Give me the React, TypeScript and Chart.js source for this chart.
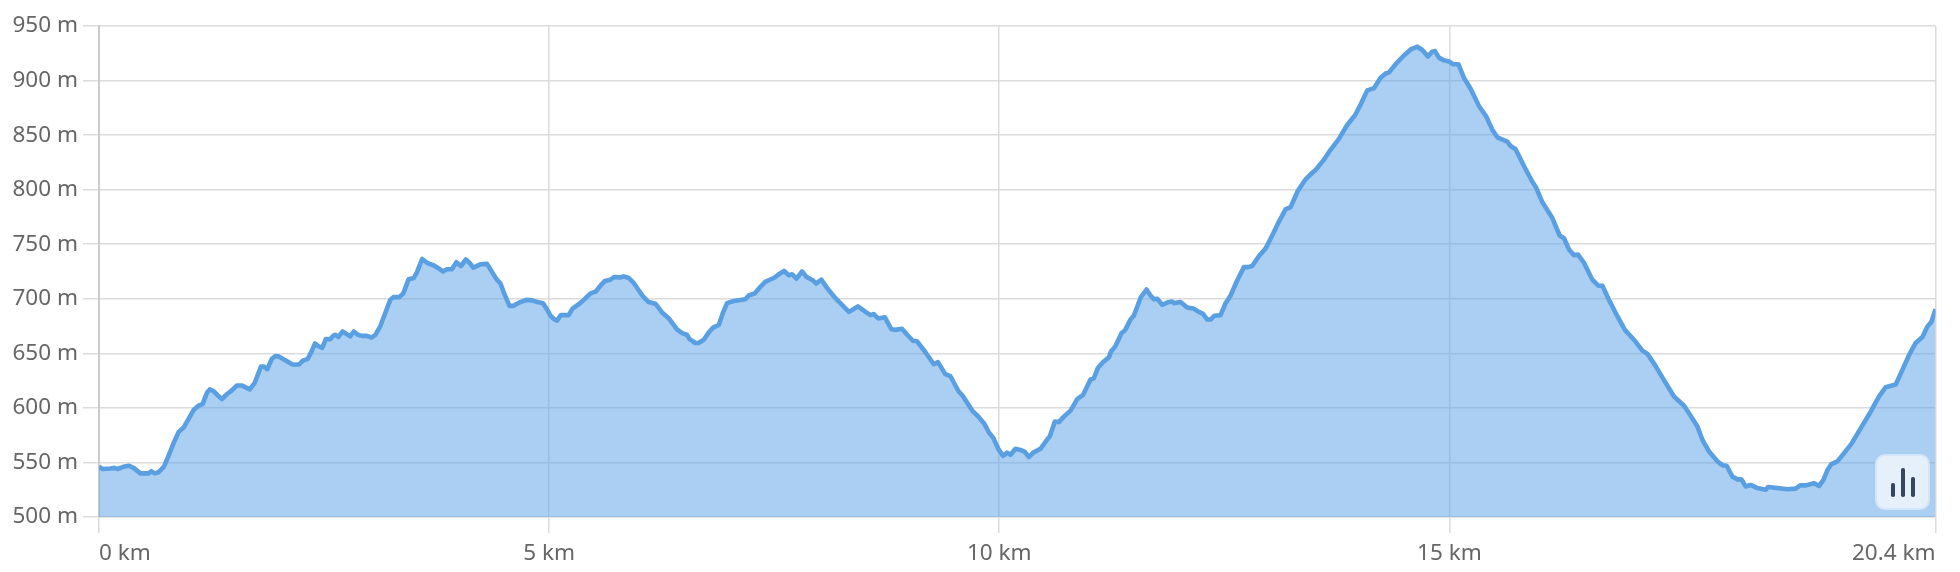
import React, { useEffect, useRef } from "react";
import { Chart, registerables } from "chart.js";

Chart.register(...registerables);

const distanceKm = [
  0, 0.04, 0.125, 0.17, 0.21, 0.27, 0.33, 0.385, 0.46, 0.515, 0.55, 0.58, 0.62, 0.66, 0.72, 0.77, 0.83, 0.885, 0.94, 0.995,
  1.05, 1.105, 1.15, 1.2, 1.23, 1.27, 1.32, 1.365, 1.42, 1.475, 1.53, 1.59, 1.625, 1.675, 1.73, 1.8, 1.83, 1.87, 1.92, 1.96,
  2.0, 2.05, 2.145, 2.18, 2.225, 2.26, 2.32, 2.365, 2.4, 2.44, 2.48, 2.52, 2.57, 2.6, 2.625, 2.66, 2.705, 2.745, 2.79, 2.83,
  2.875, 2.92, 2.975, 3.03, 3.07, 3.125, 3.18, 3.235, 3.27, 3.335, 3.38, 3.44, 3.495, 3.53, 3.59, 3.645, 3.72, 3.77, 3.82, 3.865,
  3.92, 3.97, 4.02, 4.075, 4.115, 4.16, 4.235, 4.31, 4.355, 4.415, 4.46, 4.5, 4.56, 4.605, 4.68, 4.745, 4.81, 4.87, 4.93, 4.975,
  5.015, 5.06, 5.087, 5.13, 5.217, 5.26, 5.33, 5.385, 5.46, 5.515, 5.57, 5.615, 5.68, 5.725, 5.79, 5.83, 5.885, 5.94, 5.985, 6.045,
  6.105, 6.18, 6.255, 6.33, 6.42, 6.477, 6.53, 6.56, 6.625, 6.66, 6.717, 6.772, 6.82, 6.885, 6.93, 6.977, 7.05, 7.18, 7.217, 7.285,
  7.347, 7.4, 7.506, 7.56, 7.61, 7.663, 7.7, 7.747, 7.81, 7.86, 7.93, 7.965, 8.025, 8.087, 8.18, 8.33, 8.43, 8.515, 8.57, 8.606,
  8.655, 8.73, 8.803, 8.847, 8.92, 8.977, 9.04, 9.088, 9.18, 9.273, 9.32, 9.4, 9.458, 9.55, 9.595, 9.7, 9.773, 9.83, 9.885, 9.93,
  9.996, 10.043, 10.087, 10.125, 10.18, 10.236, 10.28, 10.33, 10.377, 10.458, 10.514, 10.562, 10.618, 10.662, 10.718, 10.792, 10.866, 10.932, 11.014, 11.05,
  11.095, 11.155, 11.218, 11.244, 11.29, 11.358, 11.4, 11.458, 11.495, 11.57, 11.636, 11.68, 11.718, 11.755, 11.81, 11.866, 11.92, 11.94, 12.014, 12.088,
  12.155, 12.218, 12.266, 12.31, 12.347, 12.392, 12.458, 12.514, 12.57, 12.644, 12.718, 12.762, 12.81, 12.884, 12.958, 13.032, 13.106, 13.18, 13.236, 13.317,
  13.403, 13.477, 13.514, 13.607, 13.68, 13.773, 13.866, 13.95, 14.014, 14.088, 14.162, 14.236, 14.292, 14.33, 14.403, 14.495, 14.57, 14.644, 14.7, 14.762,
  14.81, 14.84, 14.884, 14.94, 14.995, 15.04, 15.1, 15.162, 15.236, 15.33, 15.41, 15.477, 15.533, 15.644, 15.68, 15.736, 15.83, 15.92, 15.966, 16.03,
  16.144, 16.225, 16.273, 16.33, 16.384, 16.43, 16.495, 16.588, 16.655, 16.7, 16.773, 16.866, 16.95, 17.05, 17.144, 17.2, 17.29, 17.384, 17.495, 17.607,
  17.662, 17.755, 17.81, 17.885, 17.977, 18.033, 18.08, 18.144, 18.2, 18.244, 18.292, 18.347, 18.42, 18.514, 18.54, 18.644, 18.755, 18.847, 18.896, 18.959,
  19.05, 19.107, 19.155, 19.2, 19.244, 19.31, 19.384, 19.466, 19.57, 19.68, 19.773, 19.847, 19.958, 20.033, 20.107, 20.18, 20.255, 20.31, 20.355, 20.4,
];

const elevationM = [
  546, 544, 544.5, 545, 544, 546, 547, 545, 540, 540, 540, 542, 540, 541, 546, 555.5, 568, 578, 582, 590,
  598, 602, 603.5, 614, 617, 615.5, 611.5, 608, 612.5, 616, 620.5, 620.5, 619, 617, 623, 638, 638, 635.5, 645, 647.5,
  647, 644.5, 640, 639.5, 640, 643, 645, 652.5, 659, 656.5, 655, 663, 663, 666, 667, 665, 670, 668, 665.5, 670,
  667, 666, 666, 664.5, 667, 675, 687, 699, 701.5, 701.5, 705, 718, 719, 724, 736.5, 733, 730.5, 728, 725, 727,
  727, 733.5, 730, 736, 733, 728.5, 731.5, 732, 726, 718, 714, 705, 693.5, 693.5, 697, 699, 698.5, 697, 696, 690.5,
  684.5, 681, 680, 685, 685, 691, 695, 699, 705, 706.5, 712, 716, 717.5, 720, 719.5, 720.5, 719, 714.5, 709, 702,
  697, 695.5, 687.5, 682, 672, 668.5, 667, 663, 659.5, 659.5, 662.5, 669, 673.5, 676, 687, 696, 698, 699.5, 703, 705,
  711, 715.5, 719.5, 723, 725.5, 721.5, 722.5, 718.5, 725, 720, 717, 714, 717.5, 710, 700.5, 688, 693, 688, 685, 686,
  682, 683, 672, 671.5, 672.5, 667, 661.5, 661, 651, 640, 642, 631, 629, 615, 611, 597.5, 591.5, 586, 577.5, 573,
  561.5, 556, 559, 557, 562.5, 561.5, 560, 555, 559, 562.5, 569, 574, 587.5, 587, 592, 597.5, 608, 612, 626, 627,
  636.5, 642, 646.5, 652, 656.5, 668.5, 671.5, 681, 684.5, 701, 708.5, 703, 699.5, 700, 694.5, 696.5, 697.5, 696, 697, 692,
  691, 688, 686, 681, 681, 684.5, 685, 696, 703, 717, 729, 729, 730, 739, 746, 758, 770.5, 782, 784, 799,
  809.5, 815.5, 818, 827.5, 836.5, 846.5, 859.5, 868, 878, 891, 893, 902.5, 906.5, 907.5, 915, 923, 928.5, 931, 928, 922,
  926.5, 927, 921, 918.5, 917.5, 915, 915, 902.5, 892.5, 876.5, 867, 855, 848, 844, 840, 837, 821.5, 807.5, 801.5, 789,
  774, 758, 755.5, 745, 740, 740.5, 733, 717.5, 712, 712, 699, 684, 671.5, 662.5, 652.5, 649.5, 638.5, 625.5, 610.5, 602,
  595, 583, 571, 560, 551, 547.5, 547, 537, 534.5, 534.5, 528, 529.5, 526.5, 525, 527.5, 526.5, 525.5, 526, 529, 529,
  531, 528.5, 534, 543, 548.5, 551, 558.5, 567, 581.5, 596.5, 610.5, 619, 621.5, 635, 648.5, 659.5, 665, 674.5, 679, 690.5,
];

const xTicks = [0, 5, 10, 15, 20.4];
const yTicks = [500, 550, 600, 650, 700, 750, 800, 850, 900, 950];

const font = { family: "'Noto Sans', sans-serif", size: 22.5 };
const GRID = "#dcdcdc";

export default function App() {
  const ref = useRef<HTMLCanvasElement | null>(null);
  useEffect(() => {
    document.body.style.margin = "0";
    const chart = new Chart(ref.current as HTMLCanvasElement, {
      type: "line",
      data: {
        datasets: [
          {
            data: distanceKm.map((x, i) => ({ x, y: elevationM[i] })),
            borderColor: "#5a9fe2",
            borderWidth: 4.6,
            borderJoinStyle: "round",
            backgroundColor: "rgba(88,158,232,0.5)",
            fill: "origin",
            pointRadius: 0,
            tension: 0,
          },
        ],
      },
      options: {
        animation: false,
        responsive: false,
        layout: { padding: { top: 26, right: 24.5, left: 0, bottom: 0 } },
        plugins: { legend: { display: false }, tooltip: { enabled: false } },
        scales: {
          x: {
            type: "linear",
            min: 0,
            max: 20.4,
            afterBuildTicks: (s: any) => {
              s.ticks = xTicks.map((value) => ({ value }));
            },
            afterFit: (s: any) => {
              s.height = 55;
            },
            ticks: {
              font,
              color: "#666",
              align: "inner",
              autoSkip: false,
              maxRotation: 0,
              padding: 7,
              callback: (v: any) => `${v} km`,
            },
            grid: { color: GRID, lineWidth: 1.5, tickLength: 16 },
            border: { color: GRID, width: 1.5 },
          },
          y: {
            type: "linear",
            min: 500,
            max: 950,
            afterBuildTicks: (s: any) => {
              s.ticks = yTicks.map((value) => ({ value }));
            },
            afterFit: (s: any) => {
              s.width = 99;
            },
            ticks: {
              font,
              color: "#666",
              padding: 5,
              autoSkip: false,
              callback: (v: any) => `${v} m`,
            },
            grid: { color: GRID, lineWidth: 1.5, tickLength: 16 },
            border: { color: "#cccccc", width: 2 },
          },
        },
      },
    } as any);
    return () => chart.destroy();
  }, []);

  const bar = (left: number, top: number) => (
    <span
      style={{
        position: "absolute",
        left,
        top,
        width: 3.5,
        height: 41 - top,
        background: "#36475c",
        borderRadius: 1.75,
      }}
    />
  );

  return (
    <div style={{ position: "relative", width: 1960, height: 572, overflow: "hidden", background: "#fff" }}>
      <canvas ref={ref} width={1960} height={572} style={{ display: "block" }} />
      <div
        style={{
          position: "absolute",
          left: 1875,
          top: 454,
          width: 51,
          height: 52,
          background: "#e6f0fb",
          border: "2px solid #d3e5f8",
          borderRadius: 10,
        }}
      >
        {bar(14, 27)}
        {bar(24, 12)}
        {bar(34, 21)}
      </div>
    </div>
  );
}
